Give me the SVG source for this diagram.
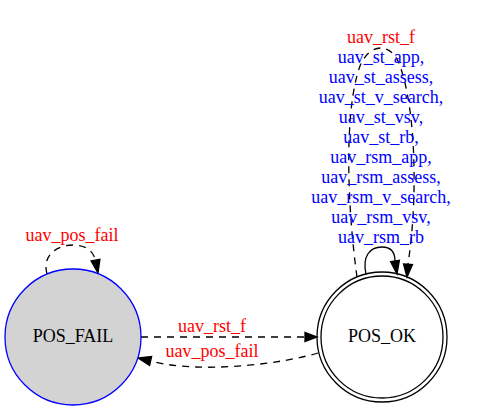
<svg xmlns="http://www.w3.org/2000/svg" width="487" height="411" viewBox="0 0 487 411">
<style>
text{font-family:"Liberation Serif","Times New Roman",serif;font-size:18px;text-anchor:middle}
.red{fill:#ff0000}
.blue{fill:#0000ff}
.lbl{fill:#000000}
.edge{fill:none;stroke:#000000;stroke-width:1.3}
.dash{stroke-dasharray:7,6}
.ah{fill:#000000;stroke:#000000;stroke-width:1.3}
</style>
<rect width="487" height="411" fill="#ffffff"/>
<g id="connectors">
<g id="e_fail_self">
<path class="edge dash" d="M47,274 C42,256 56,245 73,245 C86,245 93,251 95.5,260"/>
<polygon class="ah" points="91.1,260.9 99.9,259.2 98,273"/>
<text class="red" x="72" y="241">uav_pos_fail</text>
</g>
<g id="e_fail_ok">
<path class="edge dash" d="M141,337 L305,337"/>
<polygon class="ah" points="305,332.5 305,341.5 317,337"/>
<text class="red" x="212" y="332">uav_rst_f</text>
</g>
<g id="e_ok_fail">
<path class="edge dash" d="M318,353 C280,364 220,370 180,366 C168,365 159,363 150.6,361"/>
<polygon class="ah" points="151.6,356.6 149.6,365.4 138,358"/>
<text class="red" x="212" y="357">uav_pos_fail</text>
</g>
<g id="e_ok_self_solid">
<path class="edge" d="M366,274 C362,256 370,247 382,247 C392,247 395,253 395,261"/>
<polygon class="ah" points="390.6,261.7 399.4,260.3 397,274"/>
</g>
<g id="e_ok_self_dashed">
<path class="edge dash" d="M357,277 C347,205 344,110 360,66 C370,42 392,42 400,66 C416,110 418,200 408,264"/>
<polygon class="ah" points="403.5,264 412.5,264.5 407,277"/>
<text class="red" x="381" y="43">uav_rst_f</text>
<text class="blue" x="381" y="63">uav_st_app,</text>
<text class="blue" x="381" y="83">uav_st_assess,</text>
<text class="blue" x="381" y="103">uav_st_v_search,</text>
<text class="blue" x="381" y="123">uav_st_vsv,</text>
<text class="blue" x="381" y="143">uav_st_rb,</text>
<text class="blue" x="381" y="163">uav_rsm_app,</text>
<text class="blue" x="381" y="183">uav_rsm_assess,</text>
<text class="blue" x="381" y="203">uav_rsm_v_search,</text>
<text class="blue" x="381" y="223">uav_rsm_vsv,</text>
<text class="blue" x="381" y="243">uav_rsm_rb</text>
</g>
</g>
<g id="POS_FAIL">
<circle cx="73" cy="337" r="68" fill="#d3d3d3" stroke="#0000ff" stroke-width="1.3"/>
<text class="lbl" x="73" y="342">POS_FAIL</text>
</g>
<g id="POS_OK">
<circle cx="382" cy="337" r="65" fill="none" stroke="#000000" stroke-width="1.3"/>
<circle cx="382" cy="337" r="61" fill="none" stroke="#000000" stroke-width="1.3"/>
<text class="lbl" x="382" y="342">POS_OK</text>
</g>
</svg>
